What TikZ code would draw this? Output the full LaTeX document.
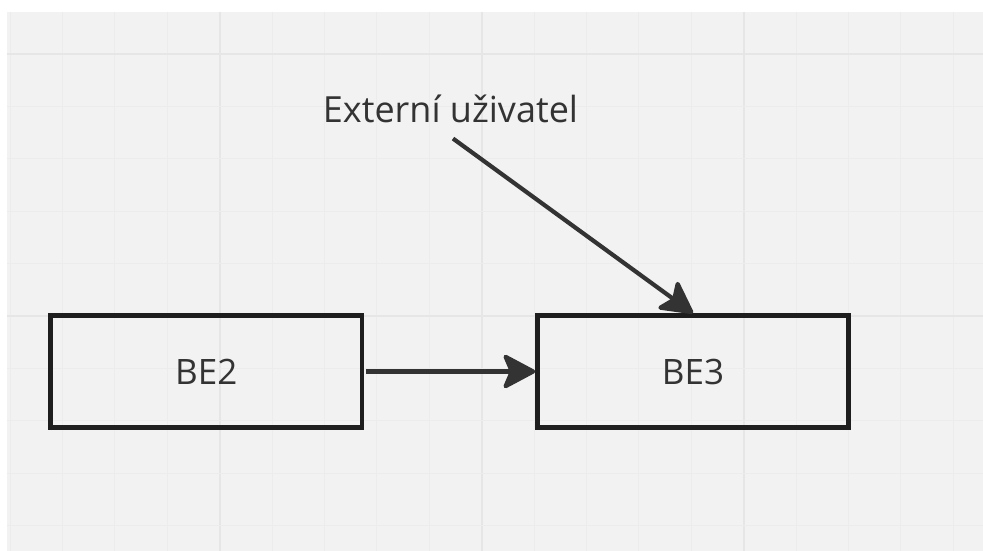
\documentclass[tikz,border=0pt]{standalone}
\usepackage{fontspec}
\setmainfont{Open Sans}
\usetikzlibrary{arrows.meta}
\definecolor{bggray}{HTML}{F2F2F2}
\definecolor{gridminor}{HTML}{ECECEC}
\definecolor{gridmajor}{HTML}{E6E6E6}
\definecolor{boxline}{HTML}{1E1E1E}
\definecolor{arrowcol}{HTML}{333333}
\definecolor{txtcol}{HTML}{333333}
\tikzset{
  bebox/.style={draw=boxline, line width=4.5bp, minimum width=311bp, minimum height=112bp,
    inner sep=0pt, text=txtcol, font=\fontsize{35bp}{42bp}\selectfont},
  lbl/.style={text=txtcol, font=\fontsize{36bp}{43bp}\selectfont, inner xsep=0pt, inner ysep=15bp},
  conn/.style={draw=arrowcol, line width=4.2bp,
    -{Stealth[length=36bp, width=38bp, inset=8bp, round]}},
  minorline/.style={draw=gridminor, line width=1bp},
  majorline/.style={draw=gridmajor, line width=2bp}
}
\begin{document}
\begin{tikzpicture}[x=1bp, y=-1bp]
\useasboundingbox (0,0) rectangle (983,551);
\fill[white] (0,0) rectangle (983,551);
\fill[bggray] (7,12) rectangle (983,551);
\begin{scope}
\clip (7,12) rectangle (983,551);
\foreach \k in {-4,...,14}{
  \pgfmathsetmacro{\xx}{219.6+52.4*\k}
  \pgfmathtruncatemacro{\m}{mod(\k+20,5)}
  \ifnum\m=0 \draw[majorline] (\xx,12) -- (\xx,551);
  \else \draw[minorline] (\xx,12) -- (\xx,551); \fi
}
\foreach \k in {-5,...,4}{
  \pgfmathsetmacro{\yy}{316+52.4*\k}
  \pgfmathtruncatemacro{\m}{mod(\k+20,5)}
  \ifnum\m=0 \draw[majorline] (7,\yy) -- (983,\yy);
  \else \draw[minorline] (7,\yy) -- (983,\yy); \fi
}
\end{scope}
\node[bebox] (be2) at (206.25,371.5) {BE2};
\node[bebox] (be3) at (693,371.5) {BE3};
\node[lbl, anchor=base] (ext) at (450.5,123) {Externí uživatel};
\draw[conn] ([xshift=2bp]be2.east) -- (be3.west);
\draw[conn] ([xshift=2.5bp]ext.south) -- (be3.north);
\end{tikzpicture}
\end{document}
